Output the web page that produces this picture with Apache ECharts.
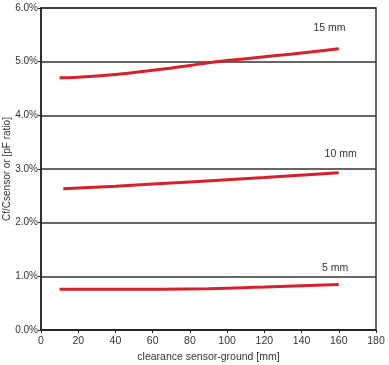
<!DOCTYPE html>
<html><head><meta charset="utf-8">
<script src="https://cdn.jsdelivr.net/npm/echarts@6/dist/echarts.min.js"></script>
<style>html,body{margin:0;padding:0;background:#fff}#c{width:389px;height:365px}</style>
</head><body><div id="c"></div>
<script>
const x15 = [10, 20, 40, 60, 80, 90, 100, 120, 140, 160];
const y15 = [4.70, 4.71, 4.76, 4.84, 4.93, 4.98, 5.02, 5.09, 5.16, 5.24];
const x10 = [12, 40, 80, 120, 160];
const y10 = [2.63, 2.68, 2.76, 2.84, 2.93];
const x5 = [10, 40, 90, 120, 160];
const y5 = [0.76, 0.76, 0.77, 0.80, 0.85];
const seriesNames = ['15 mm', '10 mm', '5 mm'];
const labelPos = [[155, 5.63], [161, 3.28], [158, 1.15]];
const FONT = "'Liberation Sans Narrow', 'Liberation Sans', Arial, sans-serif";
const chart = echarts.init(document.getElementById('c'));
const sets = [[x15, y15], [x10, y10], [x5, y5]];
chart.setOption({
  animation: false,
  grid: {left: 41, right: 13, top: 8, bottom: 35, show: true, borderColor: '#333', borderWidth: 1.5,
    containLabel: false, outerBoundsMode: 'none'},
  xAxis: {
    type: 'value', min: 0, max: 180, interval: 20,
    name: 'clearance sensor-ground [mm]', nameLocation: 'middle', nameGap: 22,
    nameTextStyle: {fontFamily: FONT, fontSize: 10.5, color: '#333'},
    axisLine: {show: true, lineStyle: {color: '#222', width: 1.5}},
    axisTick: {show: true, length: 3, lineStyle: {color: '#222'}},
    axisLabel: {fontFamily: FONT, fontSize: 10.5, color: '#333', margin: 6},
    splitLine: {show: false}
  },
  yAxis: {
    type: 'value', min: 0, max: 6, interval: 1,
    name: 'Cf/Csensor or [pF ratio]', nameLocation: 'middle', nameGap: 29, nameMoveOverlap: false,
    nameTextStyle: {fontFamily: FONT, fontSize: 10, color: '#333'},
    axisLine: {show: true, lineStyle: {color: '#222', width: 1.5}},
    axisTick: {show: true, length: 3, lineStyle: {color: '#222'}},
    axisLabel: {fontFamily: FONT, fontSize: 10, color: '#333', margin: 3,
      formatter: v => v.toFixed(1) + '%'},
    splitLine: {show: true, lineStyle: {color: '#333', width: 1.5}}
  },
  series: sets.map((s, i) => ({
    type: 'line', name: seriesNames[i], smooth: true, symbol: 'none',
    data: s[0].map((x, j) => [x, s[1][j]]),
    lineStyle: {color: '#d8202c', width: 3},
    markPoint: {
      symbol: 'circle', symbolSize: 0,
      label: {show: true, formatter: seriesNames[i], fontFamily: FONT, fontSize: 10.5, color: '#333', position: 'inside'},
      data: [{coord: labelPos[i]}]
    }
  }))
});
</script></body></html>
